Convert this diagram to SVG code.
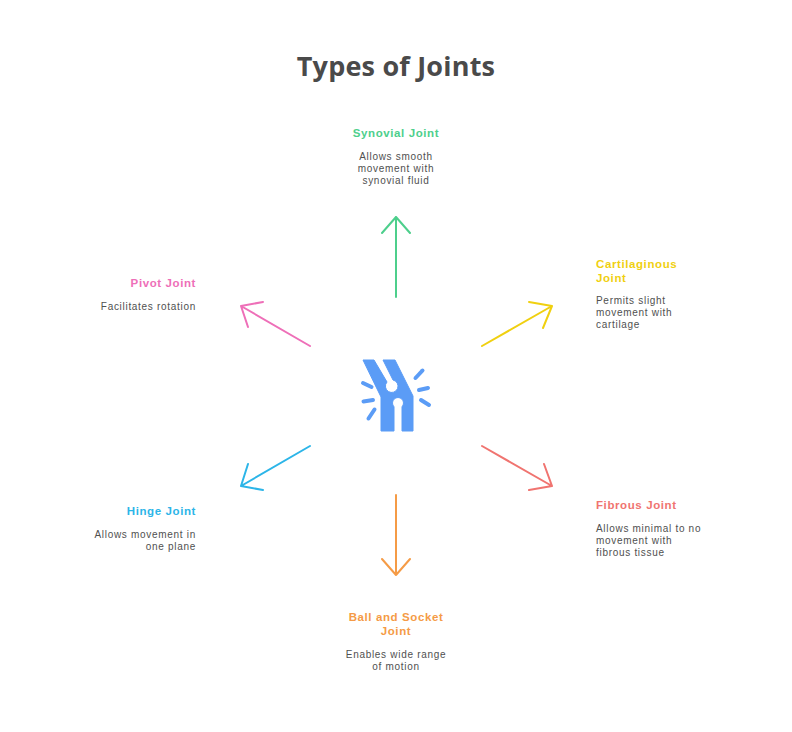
<svg xmlns="http://www.w3.org/2000/svg" width="792" height="732" viewBox="0 0 792 732">
<style>
.title{font-family:"Open Sans","Liberation Sans",sans-serif;font-weight:700;font-size:27px;letter-spacing:0.2px;fill:#4a4a4a}
.h{font-family:"Liberation Sans",Arial,sans-serif;font-weight:700;font-size:11.5px;letter-spacing:0.6px}
.d{font-family:"Liberation Sans",Arial,sans-serif;font-size:10px;letter-spacing:0.7px;fill:#505050}
.arrow{fill:none;stroke-width:2;stroke-linecap:round;stroke-linejoin:round}
.ray{stroke:#5b9cf6;stroke-width:4;stroke-linecap:round}
</style>
<rect width="792" height="732" fill="#ffffff"/>
<text class="title" x="396" y="76" text-anchor="middle">Types of Joints</text>

<g id="center-icon">
<path fill="#5b9cf6" stroke="#5b9cf6" stroke-width="1" stroke-linejoin="round" d="M363,360 L374,360 L387,382 A6.3,6.3 0 1 0 393,380 L383,360 L395,360 L413,396 L413,431 L402,431 L402,406.8 A5.5,5.5 0 1 0 394,406.8 L394,431 L381,431 L381,397 Z"/>
<line class="ray" x1="363" y1="383" x2="371.5" y2="387"/>
<line class="ray" x1="363.5" y1="401.5" x2="373" y2="400"/>
<line class="ray" x1="368.5" y1="418.5" x2="374.5" y2="409.5"/>
<line class="ray" x1="415.5" y1="378" x2="422.5" y2="370.5"/>
<line class="ray" x1="419" y1="390" x2="428" y2="388"/>
<line class="ray" x1="421" y1="400" x2="429" y2="405"/>
</g>

<g id="connectors">
<path class="arrow" stroke="#4dcf8c" d="M396,297 L396,217 M382,233 L396,217 L410,233"/>
<path class="arrow" stroke="#f0d010" d="M482,346 L552,306 M529,302 L552,306 L543,328"/>
<path class="arrow" stroke="#f07470" d="M482,446 L552,486 M544,464 L552,486 L529,490"/>
<path class="arrow" stroke="#f59b46" d="M396,495 L396,575 M382,559 L396,575 L410,559"/>
<path class="arrow" stroke="#2cb5e8" d="M310,446 L241,486 M248,464 L241,486 L263,490"/>
<path class="arrow" stroke="#ee6fb8" d="M310,346 L241,306 M263,302 L241,306 L248,327"/>
</g>

<g id="synovial">
<text class="h" x="396" y="137" text-anchor="middle" fill="#4dcf8c">Synovial Joint</text>
<text class="d" x="396" y="160" text-anchor="middle">Allows smooth</text>
<text class="d" x="396" y="172" text-anchor="middle">movement with</text>
<text class="d" x="396" y="184" text-anchor="middle">synovial fluid</text>
</g>

<g id="cartilaginous">
<text class="h" x="596" y="268" fill="#f0d010">Cartilaginous</text>
<text class="h" x="596" y="281.5" fill="#f0d010">Joint</text>
<text class="d" x="596" y="304">Permits slight</text>
<text class="d" x="596" y="316">movement with</text>
<text class="d" x="596" y="328">cartilage</text>
</g>

<g id="fibrous">
<text class="h" x="596" y="508.5" fill="#f07470">Fibrous Joint</text>
<text class="d" x="596" y="532">Allows minimal to no</text>
<text class="d" x="596" y="544">movement with</text>
<text class="d" x="596" y="556">fibrous tissue</text>
</g>

<g id="ball-and-socket">
<text class="h" x="396" y="621" text-anchor="middle" fill="#f59b46">Ball and Socket</text>
<text class="h" x="396" y="635" text-anchor="middle" fill="#f59b46">Joint</text>
<text class="d" x="396" y="658" text-anchor="middle">Enables wide range</text>
<text class="d" x="396" y="670" text-anchor="middle">of motion</text>
</g>

<g id="hinge">
<text class="h" x="196" y="515" text-anchor="end" fill="#2cb5e8">Hinge Joint</text>
<text class="d" x="196" y="538" text-anchor="end">Allows movement in</text>
<text class="d" x="196" y="550" text-anchor="end">one plane</text>
</g>

<g id="pivot">
<text class="h" x="196" y="286.5" text-anchor="end" fill="#ee6fb8">Pivot Joint</text>
<text class="d" x="196" y="309.5" text-anchor="end">Facilitates rotation</text>
</g>
</svg>
